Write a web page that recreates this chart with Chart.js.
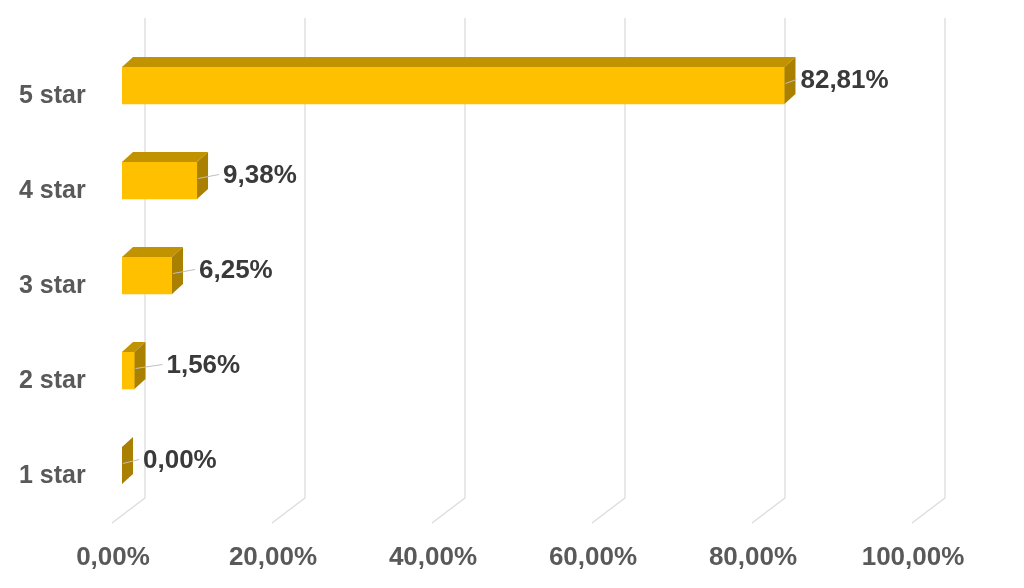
<!DOCTYPE html>
<html>
<head>
<meta charset="utf-8">
<script src="https://cdn.jsdelivr.net/npm/chart.js@4"></script>
<style>
  html, body { margin: 0; padding: 0; background: #fff; }
  #wrap { width: 1024px; height: 588px; }
</style>
</head>
<body>
<div id="wrap"><canvas id="ratingChart"></canvas></div>
<script>
const categories = ['5 star', '4 star', '3 star', '2 star', '1 star'];
const shares = [82.81, 9.38, 6.25, 1.56, 0.00];
const axisTicks = [0, 20, 40, 60, 80, 100];

function pct(v) {
  return v.toFixed(2).replace('.', ',') + '%';
}

// fake excel-style 3d: back wall gridlines, bar top/side faces, labels with leader lines
const threeD = {
  id: 'threeD',
  beforeDatasetsDraw(chart, args, opts) {
    const ctx = chart.ctx;
    const x = chart.scales.x;
    ctx.save();
    ctx.strokeStyle = '#d9d9d9';
    ctx.lineWidth = 1.2;
    axisTicks.forEach((t) => {
      const px = x.getPixelForValue(t);
      ctx.beginPath();
      ctx.moveTo(px + opts.wallDx, opts.wallTop);
      ctx.lineTo(px + opts.wallDx, opts.floorBack);
      ctx.lineTo(px - opts.floorDx, opts.floorFront);
      ctx.stroke();
    });
    ctx.restore();
  },
  afterDatasetsDraw(chart, args, opts) {
    const ctx = chart.ctx;
    const meta = chart.getDatasetMeta(0);
    const dx = opts.depthX, dy = opts.depthY;
    ctx.save();
    meta.data.forEach((bar, i) => {
      const p = bar.getProps(['x', 'y', 'base', 'height'], true);
      const top = p.y - p.height / 2;
      const bottom = p.y + p.height / 2;
      // top face
      ctx.fillStyle = opts.topColor;
      ctx.beginPath();
      ctx.moveTo(p.base, top);
      ctx.lineTo(p.x, top);
      ctx.lineTo(p.x + dx, top - dy);
      ctx.lineTo(p.base + dx, top - dy);
      ctx.closePath();
      ctx.fill();
      // side face
      ctx.fillStyle = opts.sideColor;
      ctx.beginPath();
      ctx.moveTo(p.x, top);
      ctx.lineTo(p.x + dx, top - dy);
      ctx.lineTo(p.x + dx, bottom - dy);
      ctx.lineTo(p.x, bottom);
      ctx.closePath();
      ctx.fill();

      const lx = p.x + opts.labelGap[i];
      const ly = p.y - 5;
      ctx.strokeStyle = '#bfbfbf';
      ctx.lineWidth = 1;
      ctx.beginPath();
      ctx.moveTo(p.x + 1, p.y - 2);
      ctx.lineTo(lx - 4, ly - 1);
      ctx.stroke();

      ctx.fillStyle = '#3a3a3a';
      ctx.font = 'bold 26px "Liberation Sans", Arial, sans-serif';
      ctx.textAlign = 'left';
      ctx.textBaseline = 'middle';
      ctx.fillText(pct(shares[i]), lx, ly);
    });
    ctx.restore();
  }
};

new Chart(document.getElementById('ratingChart'), {
  type: 'bar',
  data: {
    labels: categories,
    datasets: [{
      data: shares,
      backgroundColor: '#ffc000',
      borderWidth: 0,
      barThickness: 37
    }]
  },
  options: {
    indexAxis: 'y',
    responsive: true,
    maintainAspectRatio: false,
    animation: false,
    layout: { padding: { top: 38, right: 102, left: 19, bottom: 0 } },
    plugins: {
      legend: { display: false },
      tooltip: { enabled: false },
      threeD: {
        wallDx: 23, wallTop: 18, floorBack: 498, floorDx: 10, floorFront: 523,
        depthX: 11, depthY: 10,
        topColor: '#c29300', sideColor: '#a98000',
        labelGap: [16, 26, 27, 32, 21]
      }
    },
    scales: {
      x: {
        min: 0,
        max: 100,
        grid: { display: false, drawTicks: false },
        border: { display: false },
        afterFit: (s) => { s.height = 75; },
        afterBuildTicks: (s) => { s.ticks = axisTicks.map((v) => ({ value: v })); },
        ticks: {
          padding: 29,
          labelOffset: -9,
          color: '#595959',
          font: { family: '"Liberation Sans", Arial, sans-serif', size: 26, weight: 'bold' },
          callback: (v) => pct(v)
        }
      },
      y: {
        grid: { display: false, drawTicks: false },
        border: { display: false },
        afterFit: (s) => { s.width = 103; },
        ticks: {
          crossAlign: 'far',
          labelOffset: 11,
          color: '#595959',
          font: { family: '"Liberation Sans", Arial, sans-serif', size: 25, weight: 'bold' }
        }
      }
    }
  },
  plugins: [threeD]
});
</script>
</body>
</html>
